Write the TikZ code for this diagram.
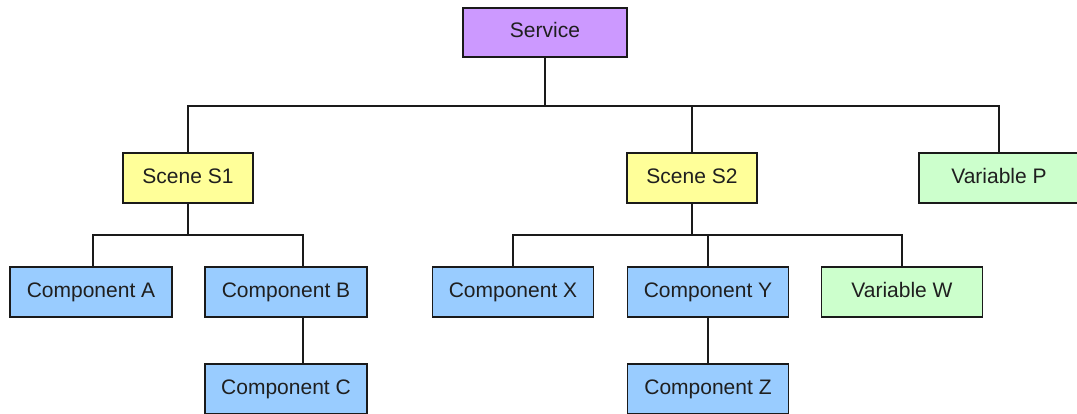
\documentclass[tikz,border=0pt]{standalone}
\usepackage{fontspec}
\setmainfont{Liberation Sans}
\definecolor{svcfill}{HTML}{CC99FF}
\definecolor{scenefill}{HTML}{FFFF99}
\definecolor{compfill}{HTML}{99CCFF}
\definecolor{varfill}{HTML}{CCFFCC}
\definecolor{edge}{HTML}{1A1A1A}
\begin{document}
\begin{tikzpicture}[x=1pt,y=-1pt,
  box/.style={draw=edge,line width=1.8pt,inner sep=0pt,minimum height=50pt,
    text height=15pt,text depth=4.5pt,
    font=\fontsize{21}{25}\selectfont,text=black!88},
  svcbox/.style={box,fill=svcfill,minimum width=164pt,minimum height=49pt},
  scenebox/.style={box,fill=scenefill,minimum width=130pt},
  compbox/.style={box,fill=compfill,minimum width=162pt},
  varbox/.style={box,fill=varfill,minimum width=161pt},
  link/.style={draw=edge,line width=1.8pt}]
\useasboundingbox (0,0) rectangle (1077,414);
\begin{scope}
\clip (0,0) rectangle (1077,414);
% tree nodes
\node[svcbox]   (service) at (545,32.5) {Service};
\node[scenebox] (s1) at (188,178) {Scene S1};
\node[scenebox] (s2) at (692,178) {Scene S2};
\node[varbox,minimum width=160pt] (vp) at (999,178) {Variable P};
\node[compbox]  (ca) at (91,292)  {Component A};
\node[compbox]  (cb) at (286,292) {Component B};
\node[compbox]  (cc) at (286,389) {Component C};
\node[compbox,minimum width=161pt] (cx) at (513,292) {Component X};
\node[compbox,minimum width=161pt] (cy) at (708,292) {Component Y};
\node[compbox,minimum width=161pt] (cz) at (708,389) {Component Z};
\node[varbox]   (vw) at (902,292) {Variable W};
% bus junctions
\coordinate (bus0) at (545,106);
\coordinate (bus1) at (188,235);
\coordinate (bus2) at (692,235);
% connectors
\draw[link] (service.south) -- (bus0);
\draw[link] (s1.north) |- (bus0);
\draw[link] (s2.north) |- (bus0);
\draw[link] (vp.north) |- (bus0);
\draw[link] (s1.south) -- (bus1);
\draw[link] ([xshift=2pt]ca.north) |- (bus1);
\draw[link] ([xshift=17pt]cb.north) |- (bus1);
\draw[link] ([xshift=17pt]cb.south) -- ([xshift=17pt]cc.north);
\draw[link] (s2.south) -- (bus2);
\draw[link] (cx.north) |- (bus2);
\draw[link] (cy.north) |- (bus2);
\draw[link] (vw.north) |- (bus2);
\draw[link] (cy.south) -- (cz.north);
\end{scope}
\end{tikzpicture}
\end{document}
